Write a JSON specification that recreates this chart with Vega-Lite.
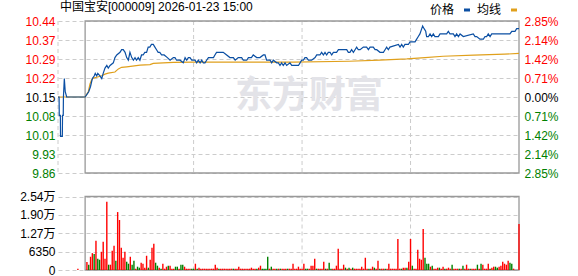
{
  "$schema": "https://vega.github.io/schema/vega-lite/v6.json",
  "width": 461,
  "height": 249,
  "autosize": {"type": "none"},
  "padding": {"left": 58, "top": 21, "right": 59, "bottom": 6},
  "background": "white",
  "title": {"text": "中国宝安[000009] 2026-01-23 15:00", "anchor": "start", "frame": "group", "font": "Liberation Sans, Noto Sans CJK SC", "fontSize": 12, "fontWeight": "normal", "color": "#000000", "baseline": "bottom", "offset": -12, "dx": 2, "dy": 10},
  "datasets": {
    "px": [
      {"t":0,"p":10.15},{"t":0.6,"p":10.15},{"t":0.7,"p":10.08},{"t":1.3,"p":10.08},{"t":1.4,"p":10.0},{"t":2.4,"p":10.0},{"t":2.5,"p":10.08},{"t":2.9,"p":10.08},{"t":3.0,"p":10.15},{"t":3.5,"p":10.22},{"t":4.0,"p":10.17},{"t":4.8,"p":10.15},{"t":15,"p":10.15},
      {"t":16,"p":10.16},{"t":17,"p":10.17},{"t":18,"p":10.19},{"t":19,"p":10.22},{"t":20,"p":10.23},{"t":20.6,"p":10.24},{"t":21.4,"p":10.23},{"t":22,"p":10.24},{"t":23.2,"p":10.23},{"t":24.2,"p":10.22},{"t":25,"p":10.24},{"t":26,"p":10.26},{"t":27,"p":10.27},{"t":27.8,"p":10.26},{"t":28.8,"p":10.27},{"t":30.6,"p":10.28},{"t":31.5,"p":10.30},{"t":32.5,"p":10.31},{"t":34.3,"p":10.32},{"t":35.2,"p":10.33},{"t":36.1,"p":10.33},{"t":37.1,"p":10.32},{"t":38,"p":10.30},{"t":38.9,"p":10.29},{"t":39.8,"p":10.32},{"t":40.8,"p":10.30},{"t":41.7,"p":10.29},{"t":42.6,"p":10.30},{"t":43.4,"p":10.29},{"t":44.4,"p":10.30},{"t":45.3,"p":10.29},{"t":46.2,"p":10.31},{"t":47.1,"p":10.31},{"t":48,"p":10.32},{"t":49,"p":10.32},{"t":49.9,"p":10.34},{"t":50.8,"p":10.34},{"t":51.7,"p":10.35},{"t":52.7,"p":10.35},{"t":53.6,"p":10.34},{"t":54.5,"p":10.33},{"t":55.4,"p":10.32},{"t":56.3,"p":10.32},{"t":57.3,"p":10.31},{"t":58.7,"p":10.31},{"t":60.5,"p":10.30},{"t":62,"p":10.29},{"t":63.8,"p":10.30},{"t":64.7,"p":10.30},{"t":65.6,"p":10.29},{"t":67.5,"p":10.29},{"t":69.3,"p":10.28},{"t":70.3,"p":10.30},{"t":71.2,"p":10.29},{"t":72.1,"p":10.30},{"t":73,"p":10.30},{"t":74,"p":10.29},{"t":75.8,"p":10.29},{"t":76.7,"p":10.28},{"t":77.6,"p":10.29},{"t":78.6,"p":10.28},{"t":79.5,"p":10.29},{"t":80.4,"p":10.28},{"t":81.3,"p":10.28},{"t":82.2,"p":10.29},{"t":83.2,"p":10.30},{"t":86,"p":10.30},{"t":86.8,"p":10.31},{"t":87.7,"p":10.32},{"t":91.4,"p":10.32},{"t":93.3,"p":10.31},{"t":95.1,"p":10.30},{"t":97,"p":10.30},{"t":98,"p":10.29},{"t":99.7,"p":10.30},{"t":101.6,"p":10.30},{"t":102.5,"p":10.29},{"t":104.4,"p":10.29},{"t":105.3,"p":10.30},{"t":107,"p":10.30},{"t":108,"p":10.31},{"t":109.9,"p":10.30},{"t":111.7,"p":10.30},{"t":113.6,"p":10.31},{"t":114.5,"p":10.31},{"t":115.4,"p":10.29},{"t":117.3,"p":10.29},{"t":118.2,"p":10.28},{"t":119.1,"p":10.29},{"t":121,"p":10.28},{"t":121.9,"p":10.28},{"t":122.8,"p":10.27},{"t":123.7,"p":10.28},{"t":124.6,"p":10.27},{"t":125.6,"p":10.28},{"t":126.5,"p":10.27},{"t":128.3,"p":10.28},{"t":129.3,"p":10.27},{"t":133,"p":10.27},{"t":133.9,"p":10.28},{"t":134.8,"p":10.29},{"t":135.7,"p":10.29},{"t":136.6,"p":10.30},{"t":137.5,"p":10.30},{"t":138.5,"p":10.29},{"t":140.3,"p":10.29},{"t":142.2,"p":10.30},{"t":143.1,"p":10.31},{"t":144.9,"p":10.31},{"t":145.8,"p":10.32},{"t":146.8,"p":10.31},{"t":147.7,"p":10.32},{"t":148.6,"p":10.31},{"t":149.5,"p":10.32},{"t":150.5,"p":10.32},{"t":151.4,"p":10.31},{"t":152.3,"p":10.32},{"t":154.1,"p":10.32},{"t":155.1,"p":10.33},{"t":159.7,"p":10.33},{"t":160.6,"p":10.32},{"t":161.5,"p":10.32},{"t":162.4,"p":10.33},{"t":163.4,"p":10.32},{"t":164.3,"p":10.33},{"t":165.2,"p":10.34},{"t":166.1,"p":10.33},{"t":167.1,"p":10.33},{"t":168.9,"p":10.34},{"t":170.7,"p":10.34},{"t":171.7,"p":10.33},{"t":172.6,"p":10.34},{"t":174.4,"p":10.34},{"t":175.4,"p":10.33},{"t":176.3,"p":10.33},{"t":178.1,"p":10.32},{"t":180,"p":10.32},{"t":180.9,"p":10.33},{"t":181.8,"p":10.34},{"t":182.7,"p":10.33},{"t":183.6,"p":10.34},{"t":188.3,"p":10.35},{"t":189.2,"p":10.34},{"t":190.1,"p":10.35},{"t":191,"p":10.34},{"t":191.9,"p":10.35},{"t":193.8,"p":10.35},{"t":194.7,"p":10.36},{"t":197.5,"p":10.36},{"t":198.4,"p":10.37},{"t":199.3,"p":10.38},{"t":200.2,"p":10.39},{"t":201.2,"p":10.41},{"t":201.7,"p":10.42},{"t":202.5,"p":10.41},{"t":203.4,"p":10.40},{"t":203.9,"p":10.38},{"t":204.9,"p":10.38},{"t":205.8,"p":10.39},{"t":206.7,"p":10.38},{"t":207.6,"p":10.39},{"t":208.5,"p":10.38},{"t":210.4,"p":10.38},{"t":211.3,"p":10.39},{"t":215,"p":10.39},{"t":215.9,"p":10.40},{"t":216.8,"p":10.39},{"t":218.7,"p":10.39},{"t":219.6,"p":10.38},{"t":220.5,"p":10.39},{"t":221.5,"p":10.38},{"t":222.4,"p":10.39},{"t":224.2,"p":10.38},{"t":229.7,"p":10.39},{"t":230.7,"p":10.38},{"t":231.6,"p":10.38},{"t":233.4,"p":10.37},{"t":235.3,"p":10.37},{"t":236.2,"p":10.38},{"t":237.1,"p":10.38},{"t":238,"p":10.39},{"t":239,"p":10.38},{"t":239.9,"p":10.39},{"t":250,"p":10.39},{"t":251,"p":10.40},{"t":252.8,"p":10.40},{"t":253.7,"p":10.41},{"t":255,"p":10.41}
    ],
    "avg": [
      {"t":0,"p":10.15},{"t":15,"p":10.15},{"t":16.8,"p":10.171},{"t":17.7,"p":10.20},{"t":18.6,"p":10.215},{"t":19.5,"p":10.222},{"t":21.4,"p":10.225},{"t":24.2,"p":10.231},{"t":26,"p":10.237},{"t":27.8,"p":10.241},{"t":31.5,"p":10.245},{"t":33.4,"p":10.257},{"t":35.2,"p":10.263},{"t":38,"p":10.265},{"t":45.4,"p":10.271},{"t":50.9,"p":10.273},{"t":52.7,"p":10.278},{"t":63.8,"p":10.282},{"t":75,"p":10.283},{"t":130,"p":10.283},{"t":161,"p":10.286},{"t":178,"p":10.290},{"t":193,"p":10.295},{"t":203,"p":10.300},{"t":213,"p":10.305},{"t":230,"p":10.309},{"t":247,"p":10.313},{"t":255,"p":10.316}
    ],
    "vol": [
      {"t":11,"v":450,"d":"up"},{"t":16,"v":2750,"d":"up"},{"t":17,"v":1830,"d":"down"},{"t":18,"v":4580,"d":"up"},{"t":19,"v":5830,"d":"up"},{"t":20,"v":5490,"d":"down"},{"t":21,"v":10070,"d":"up"},{"t":22,"v":3890,"d":"down"},{"t":23,"v":3550,"d":"down"},{"t":24,"v":6290,"d":"up"},{"t":25,"v":9720,"d":"up"},{"t":26,"v":3890,"d":"up"},{"t":27,"v":23570,"d":"up"},{"t":28,"v":1830,"d":"down"},{"t":29,"v":1830,"d":"up"},{"t":30,"v":6640,"d":"up"},{"t":31,"v":8350,"d":"up"},{"t":32,"v":3200,"d":"down"},{"t":33,"v":20020,"d":"up"},{"t":34,"v":17270,"d":"up"},{"t":35,"v":7660,"d":"up"},{"t":36,"v":4230,"d":"up"},{"t":37,"v":6290,"d":"up"},{"t":38,"v":2860,"d":"down"},{"t":39,"v":2170,"d":"down"},{"t":40,"v":4580,"d":"up"},{"t":41,"v":1830,"d":"down"},{"t":42,"v":3200,"d":"down"},{"t":43,"v":450,"d":"up"},{"t":44,"v":1144,"d":"down"},{"t":45,"v":800,"d":"down"},{"t":46,"v":2520,"d":"up"},{"t":47,"v":2170,"d":"up"},{"t":48,"v":800,"d":"up"},{"t":49,"v":4920,"d":"up"},{"t":50,"v":800,"d":"down"},{"t":51,"v":3550,"d":"up"},{"t":52,"v":7660,"d":"up"},{"t":53,"v":9040,"d":"up"},{"t":54,"v":2520,"d":"down"},{"t":55,"v":1487,"d":"down"},{"t":56,"v":800,"d":"up"},{"t":57,"v":450,"d":"down"},{"t":58,"v":2170,"d":"up"},{"t":59,"v":450,"d":"up"},{"t":60,"v":1144,"d":"up"},{"t":61,"v":1487,"d":"down"},{"t":62,"v":1487,"d":"up"},{"t":63,"v":450,"d":"up"},{"t":64,"v":450,"d":"up"},{"t":65,"v":1144,"d":"down"},{"t":66,"v":1144,"d":"down"},{"t":67,"v":450,"d":"up"},{"t":68,"v":1830,"d":"down"},{"t":69,"v":1830,"d":"down"},{"t":70,"v":1144,"d":"up"},{"t":71,"v":450,"d":"up"},{"t":72,"v":450,"d":"up"},{"t":73,"v":450,"d":"up"},{"t":74,"v":450,"d":"down"},{"t":75,"v":450,"d":"down"},{"t":76,"v":2170,"d":"up"},{"t":77,"v":450,"d":"down"},{"t":78,"v":800,"d":"up"},{"t":79,"v":450,"d":"up"},{"t":80,"v":450,"d":"up"},{"t":81,"v":450,"d":"up"},{"t":82,"v":450,"d":"up"},{"t":83,"v":450,"d":"up"},{"t":84,"v":450,"d":"up"},{"t":85,"v":450,"d":"up"},{"t":86,"v":450,"d":"up"},{"t":87,"v":1830,"d":"up"},{"t":88,"v":800,"d":"up"},{"t":89,"v":450,"d":"down"},{"t":90,"v":450,"d":"up"},{"t":91,"v":450,"d":"up"},{"t":92,"v":450,"d":"up"},{"t":93,"v":450,"d":"up"},{"t":94,"v":450,"d":"up"},{"t":95,"v":450,"d":"up"},{"t":96,"v":450,"d":"up"},{"t":97,"v":450,"d":"down"},{"t":98,"v":450,"d":"up"},{"t":99,"v":450,"d":"up"},{"t":100,"v":1144,"d":"up"},{"t":101,"v":450,"d":"up"},{"t":102,"v":450,"d":"up"},{"t":103,"v":450,"d":"up"},{"t":104,"v":450,"d":"up"},{"t":105,"v":450,"d":"up"},{"t":106,"v":450,"d":"up"},{"t":107,"v":800,"d":"up"},{"t":108,"v":450,"d":"up"},{"t":109,"v":450,"d":"up"},{"t":110,"v":450,"d":"down"},{"t":111,"v":800,"d":"up"},{"t":112,"v":1487,"d":"up"},{"t":113,"v":450,"d":"down"},{"t":114,"v":450,"d":"down"},{"t":115,"v":450,"d":"down"},{"t":116,"v":4580,"d":"down"},{"t":117,"v":450,"d":"up"},{"t":118,"v":1144,"d":"down"},{"t":119,"v":450,"d":"up"},{"t":120,"v":450,"d":"up"},{"t":121,"v":450,"d":"down"},{"t":122,"v":450,"d":"up"},{"t":123,"v":450,"d":"down"},{"t":124,"v":450,"d":"up"},{"t":125,"v":450,"d":"up"},{"t":126,"v":450,"d":"up"},{"t":127,"v":450,"d":"down"},{"t":128,"v":450,"d":"up"},{"t":129,"v":450,"d":"up"},{"t":130,"v":2170,"d":"up"},{"t":131,"v":450,"d":"up"},{"t":132,"v":450,"d":"up"},{"t":133,"v":1144,"d":"up"},{"t":134,"v":450,"d":"up"},{"t":135,"v":450,"d":"up"},{"t":136,"v":2170,"d":"up"},{"t":137,"v":450,"d":"down"},{"t":138,"v":450,"d":"down"},{"t":139,"v":450,"d":"up"},{"t":140,"v":1487,"d":"up"},{"t":141,"v":1487,"d":"up"},{"t":142,"v":3890,"d":"up"},{"t":143,"v":450,"d":"down"},{"t":144,"v":450,"d":"up"},{"t":145,"v":450,"d":"up"},{"t":146,"v":450,"d":"up"},{"t":147,"v":2860,"d":"up"},{"t":148,"v":450,"d":"down"},{"t":149,"v":450,"d":"up"},{"t":150,"v":2520,"d":"down"},{"t":151,"v":450,"d":"down"},{"t":152,"v":450,"d":"up"},{"t":153,"v":450,"d":"up"},{"t":154,"v":1487,"d":"up"},{"t":155,"v":7320,"d":"up"},{"t":156,"v":450,"d":"up"},{"t":157,"v":450,"d":"up"},{"t":158,"v":1830,"d":"up"},{"t":159,"v":800,"d":"down"},{"t":160,"v":450,"d":"up"},{"t":161,"v":800,"d":"down"},{"t":162,"v":450,"d":"up"},{"t":163,"v":800,"d":"down"},{"t":164,"v":450,"d":"up"},{"t":165,"v":450,"d":"up"},{"t":166,"v":450,"d":"up"},{"t":167,"v":450,"d":"up"},{"t":168,"v":1144,"d":"up"},{"t":169,"v":450,"d":"up"},{"t":170,"v":4230,"d":"up"},{"t":171,"v":450,"d":"up"},{"t":172,"v":450,"d":"down"},{"t":173,"v":450,"d":"up"},{"t":174,"v":1144,"d":"up"},{"t":175,"v":800,"d":"down"},{"t":176,"v":450,"d":"up"},{"t":177,"v":3200,"d":"up"},{"t":178,"v":450,"d":"down"},{"t":179,"v":450,"d":"up"},{"t":180,"v":450,"d":"up"},{"t":181,"v":450,"d":"down"},{"t":182,"v":450,"d":"up"},{"t":183,"v":2170,"d":"up"},{"t":184,"v":450,"d":"up"},{"t":185,"v":450,"d":"up"},{"t":186,"v":450,"d":"up"},{"t":187,"v":450,"d":"up"},{"t":188,"v":10750,"d":"up"},{"t":189,"v":450,"d":"up"},{"t":190,"v":450,"d":"down"},{"t":191,"v":800,"d":"up"},{"t":192,"v":800,"d":"up"},{"t":193,"v":800,"d":"down"},{"t":194,"v":2860,"d":"up"},{"t":195,"v":10750,"d":"up"},{"t":196,"v":1487,"d":"down"},{"t":197,"v":450,"d":"up"},{"t":198,"v":450,"d":"up"},{"t":199,"v":6980,"d":"up"},{"t":200,"v":3890,"d":"up"},{"t":201,"v":3550,"d":"up"},{"t":202,"v":14190,"d":"up"},{"t":203,"v":4230,"d":"down"},{"t":204,"v":2170,"d":"down"},{"t":205,"v":2170,"d":"down"},{"t":206,"v":1144,"d":"up"},{"t":207,"v":1487,"d":"down"},{"t":208,"v":450,"d":"up"},{"t":209,"v":450,"d":"up"},{"t":210,"v":800,"d":"up"},{"t":211,"v":800,"d":"down"},{"t":212,"v":450,"d":"up"},{"t":213,"v":1144,"d":"up"},{"t":214,"v":450,"d":"down"},{"t":215,"v":450,"d":"up"},{"t":216,"v":800,"d":"up"},{"t":217,"v":450,"d":"up"},{"t":218,"v":1830,"d":"down"},{"t":219,"v":450,"d":"up"},{"t":220,"v":450,"d":"up"},{"t":221,"v":450,"d":"up"},{"t":222,"v":450,"d":"down"},{"t":223,"v":450,"d":"up"},{"t":224,"v":1487,"d":"down"},{"t":225,"v":450,"d":"up"},{"t":226,"v":1830,"d":"up"},{"t":227,"v":450,"d":"up"},{"t":228,"v":450,"d":"down"},{"t":229,"v":450,"d":"up"},{"t":230,"v":450,"d":"up"},{"t":231,"v":450,"d":"up"},{"t":232,"v":1830,"d":"down"},{"t":233,"v":450,"d":"up"},{"t":234,"v":2170,"d":"down"},{"t":235,"v":1830,"d":"up"},{"t":236,"v":450,"d":"up"},{"t":237,"v":450,"d":"up"},{"t":238,"v":2170,"d":"up"},{"t":239,"v":450,"d":"down"},{"t":240,"v":800,"d":"up"},{"t":241,"v":1144,"d":"up"},{"t":242,"v":1144,"d":"down"},{"t":243,"v":800,"d":"down"},{"t":244,"v":1144,"d":"up"},{"t":245,"v":1487,"d":"up"},{"t":246,"v":2860,"d":"up"},{"t":247,"v":2170,"d":"up"},{"t":248,"v":1830,"d":"up"},{"t":249,"v":3200,"d":"up"},{"t":250,"v":2520,"d":"down"},{"t":251,"v":2170,"d":"down"},{"t":252,"v":450,"d":"up"},{"t":255,"v":15900,"d":"up"}
    ],
    "vgrid": [{"t":0},{"t":75},{"t":135},{"t":195}],
    "one": [{"label":"东方财富"}]
  },
  "layer": [
    {
      "layer": [
        {
          "data": {"name": "one"},
          "mark": {"type": "text", "font": "Noto Sans CJK SC", "fontSize": 37, "fontWeight": "bold", "color": "#e3e3e8", "align": "center", "baseline": "middle"},
          "encoding": {
            "x": {"datum": 138.8, "type": "quantitative", "axis": null},
            "y": {"datum": 10.15, "type": "quantitative", "axis": null},
            "text": {"field": "label"}
          }
        },
        {
          "data": {"name": "vgrid"},
          "mark": {"type": "rule", "color": "#cccccc", "strokeWidth": 1, "strokeDash": [4, 3]},
          "encoding": {
            "x": {"field": "t", "type": "quantitative", "axis": null},
            "y": {"datum": 10.4392, "type": "quantitative", "axis": null},
            "y2": {"datum": 9.8608}
          }
        },
        {
          "data": {"name": "one"},
          "mark": {"type": "rect", "fill": "transparent", "stroke": "#999999", "strokeWidth": 1.3},
          "encoding": {
            "x": {"datum": 15, "type": "quantitative", "axis": null},
            "x2": {"datum": 255},
            "y": {"datum": 10.4392, "type": "quantitative", "axis": null},
            "y2": {"datum": 9.8608}
          }
        },
        {
          "data": {"name": "avg"},
          "mark": {"type": "line", "strokeWidth": 1.2, "interpolate": "linear"},
          "encoding": {
            "x": {"field": "t", "type": "quantitative", "axis": null},
            "y": {"field": "p", "type": "quantitative", "axis": null},
            "color": {"datum": "均线", "type": "nominal"}
          }
        },
        {
          "data": {"name": "px"},
          "mark": {"type": "line", "strokeWidth": 1.2, "interpolate": "linear"},
          "encoding": {
            "x": {
              "field": "t", "type": "quantitative",
              "scale": {"domain": [0, 255], "nice": false, "zero": false},
              "axis": {
                "orient": "bottom", "offset": -97, "title": null,
                "values": [0, 15, 75, 135, 195, 255],
                "labelExpr": "datum.value == 0 ? '9:15' : datum.value == 15 ? '09:30' : datum.value == 75 ? '10:30' : datum.value == 135 ? '11:30/13:00' : datum.value == 195 ? '14:00' : '15:00'",
                "labelAlign": {"expr": "datum.value <= 15 ? 'left' : datum.value >= 255 ? 'right' : 'center'"},
                "labelFlush": false, "labelOverlap": false, "grid": false, "ticks": false, "domain": false,
                "labelPadding": 4, "labelColor": "#000000"
              }
            },
            "y": {
              "field": "p", "type": "quantitative",
              "scale": {"domain": [9.8608, 10.4392], "range": [152, 0], "nice": false, "zero": false},
              "axis": {
                "orient": "left", "title": null,
                "values": [9.8608, 9.9331, 10.0054, 10.0777, 10.15, 10.2223, 10.2946, 10.3669, 10.4392],
                "format": ".2f", "labelOverlap": false,
                "grid": true, "gridDash": [4, 3], "gridColor": "#cccccc", "gridWidth": 1,
                "ticks": false, "domain": false, "labelPadding": 3,
                "labelColor": {"expr": "datum.value > 10.16 ? '#ff0000' : datum.value < 10.14 ? '#008000' : '#000000'"}
              }
            },
            "color": {
              "datum": "价格", "type": "nominal",
              "scale": {"domain": ["价格", "均线"], "range": ["#0b4fa3", "#e0a01c"]},
              "legend": {
                "orient": "none", "legendX": 403, "legendY": -17, "direction": "horizontal", "title": null,
                "symbolType": "stroke", "symbolSize": 36, "symbolStrokeWidth": 3,
                "labelAlign": "right", "labelOffset": -19, "columnPadding": 0,
                "labelFont": "Noto Sans CJK SC", "labelFontSize": 12, "labelColor": "#000000", "padding": 0
              }
            }
          }
        },
        {
          "data": {"name": "one"},
          "mark": {"type": "point", "opacity": 0},
          "encoding": {
            "x": {"datum": 0, "type": "quantitative", "axis": null},
            "y": {
              "datum": 10.15, "type": "quantitative",
              "axis": {
                "orient": "right", "title": null,
                "values": [9.8608, 9.9331, 10.0054, 10.0777, 10.15, 10.2223, 10.2946, 10.3669, 10.4392],
                "labelExpr": "format(abs(datum.value - 10.15) / 10.15 * 100, '.2f') + '%'",
                "labelOverlap": false, "grid": false, "ticks": false, "domain": false, "labelPadding": 5,
                "labelColor": {"expr": "datum.value > 10.16 ? '#ff0000' : datum.value < 10.14 ? '#008000' : '#000000'"}
              }
            }
          }
        }
      ],
      "resolve": {"axis": {"y": "independent"}}
    },
    {
      "layer": [
        {
          "data": {"name": "vgrid"},
          "transform": [{"filter": "datum.t > 0"}],
          "mark": {"type": "rule", "color": "#cccccc", "strokeWidth": 1, "strokeDash": [4, 3]},
          "encoding": {
            "x": {"field": "t", "type": "quantitative", "axis": null},
            "y": {"datum": 25400, "type": "quantitative"},
            "y2": {"datum": 0}
          }
        },
        {
          "data": {"name": "one"},
          "mark": {"type": "rect", "fill": "transparent", "stroke": "#999999", "strokeWidth": 1.3},
          "encoding": {
            "x": {"datum": 15, "type": "quantitative", "axis": null},
            "x2": {"datum": 255},
            "y": {"datum": 25400, "type": "quantitative"},
            "y2": {"datum": 0}
          }
        },
        {
          "data": {"name": "vol"},
          "mark": {"type": "rule", "strokeWidth": 1.4},
          "encoding": {
            "x": {"field": "t", "type": "quantitative", "axis": null},
            "y": {
              "field": "v", "type": "quantitative",
              "scale": {"domain": [0, 25400], "range": [249, 175.5], "nice": false},
              "axis": {
                "orient": "left", "title": null,
                "values": [0, 6350, 12700, 19050, 25400],
                "labelExpr": "datum.value >= 10000 ? format(floor(datum.value / 100) / 100, '.2f') + '万' : format(datum.value, 'd')",
                "labelOverlap": false, "grid": true, "gridDash": [4, 3], "gridColor": "#cccccc", "gridWidth": 1,
                "ticks": false, "domain": false, "labelPadding": 3, "labelColor": "#000000"
              }
            },
            "y2": {"datum": 0},
            "color": {
              "field": "d", "type": "nominal",
              "scale": {"domain": ["up", "down"], "range": ["#ff0000", "#008000"]},
              "legend": null
            }
          }
        }
      ]
    }
  ],
  "resolve": {"scale": {"y": "independent", "color": "independent"}, "axis": {"y": "independent"}},
  "config": {
    "view": {"stroke": null},
    "font": "Liberation Sans",
    "axis": {"labelFont": "Liberation Sans, Noto Sans CJK SC", "labelFontSize": 12}
  }
}
